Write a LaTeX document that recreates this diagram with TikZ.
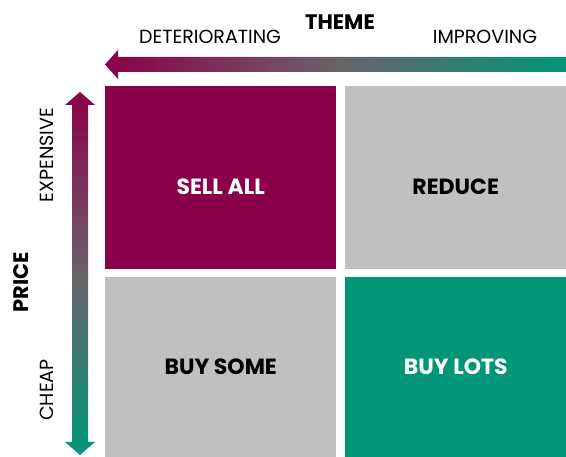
\documentclass[tikz,border=0pt]{standalone}
\usepackage{fontspec}
\setmainfont{Poppins}
\usetikzlibrary{positioning,calc}

\definecolor{sellred}{RGB}{139,0,74}
\definecolor{buygreen}{RGB}{0,150,119}
\definecolor{holdgray}{RGB}{192,192,192}
\definecolor{midgray}{RGB}{106,98,104}

\begin{document}
\begin{tikzpicture}[
    x=1pt, y=-1pt,
    % Define styles
    quad/.style={rectangle, inner sep=0pt, anchor=north west, font=\fontsize{22}{26}\selectfont\bfseries},
    axislabel/.style={font=\fontsize{19}{22}\selectfont},
    axistitle/.style={font=\fontsize{21}{24}\selectfont\bfseries}
]
\useasboundingbox (0,0) rectangle (566,457);

% Quadrants
\node[quad, fill=sellred, minimum width=231pt, minimum height=183pt] (sellall) at (105,86) {};
\node[quad, fill=holdgray, minimum width=221pt, minimum height=183pt] (reduce) at (345,86) {};
\node[quad, fill=holdgray, minimum width=231pt, minimum height=180pt] (buysome) at (105,277) {BUY SOME};
\node[quad, fill=buygreen, text=white, minimum width=221pt, minimum height=180pt] (buylots) at (345,277) {BUY LOTS};
\node[quad, anchor=center, text=white] (sellalltext) at ($(sellall.center)+(0,9)$) {SELL ALL};
\node[quad, anchor=center] (reducetext) at ($(reduce.center)+(0,9)$) {REDUCE};

% Theme arrow
\coordinate (themetip) at (105,64.5);
\coordinate (themeend) at (566,64.5);
\shade[left color=sellred, right color=buygreen, middle color=midgray]
    (themetip) -- ++(13,-14.5) -- ++(0,7) -- (themeend |- 0,57) -- (themeend |- 0,72)
    -- ($(themetip)+(13,7.5)$) -- ++(0,7) -- cycle;

% Price arrow
\coordinate (pricetop) at (80,92);
\coordinate (pricebot) at (80,455);
\shade[top color=sellred, bottom color=buygreen, middle color=midgray]
    (pricetop) -- ++(15,13) -- ++(-7,0) -- ++(0,337) -- ++(7,0) -- (pricebot)
    -- ++(-15,-13) -- ++(7,0) -- ++(0,-337) -- ++(-7,0) -- cycle;

% Labels
\node[axistitle] (theme) at (340,22) {THEME};
\node[axislabel] (worse) at (210,37) {DETERIORATING};
\node[axislabel] (better) at (485,37) {IMPROVING};
\node[axistitle, rotate=90] (price) at (21,282) {PRICE};
\node[axislabel, rotate=90] (dear) at (47,155) {EXPENSIVE};
\node[axislabel, rotate=90] (cheap) at (47,390) {CHEAP};

\end{tikzpicture}
\end{document}
